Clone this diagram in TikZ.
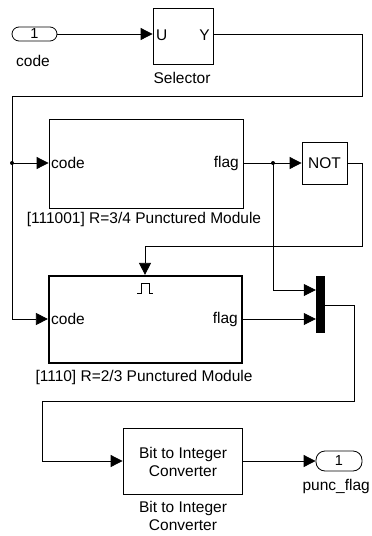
\documentclass[tikz,border=0pt]{standalone}
\usepackage{fontspec}
\setmainfont{Liberation Sans}
\usetikzlibrary{arrows.meta}
\tikzset{
  blk/.style={draw, line width=0.8pt, inner sep=0pt},
  thickblk/.style={draw, line width=2.2pt, inner sep=0pt},
  port/.style={draw, line width=0.8pt, rounded corners=7pt, inner sep=0pt, font=\fontsize{14.5}{16}\selectfont},
  lbl/.style={inner sep=0pt, font=\fontsize{15.5}{18}\selectfont, align=center},
  plbl/.style={inner sep=0pt, font=\fontsize{15.5}{18}\selectfont},
  wire/.style={line width=0.8pt},
  arr/.style={wire, -{Triangle[length=12pt,width=12pt]}},
  dot/.style={circle, fill, inner sep=0pt, minimum size=4pt}
}
\begin{document}
\begin{tikzpicture}[x=1pt,y=-1pt]
\useasboundingbox (0,0) rectangle (372,536);
% blocks
\node[port, minimum width=45pt, minimum height=14pt] (in1) at (34.5,34) {1};
\node[lbl] (incode) at (33,61) {code};
\node[blk, minimum width=60pt, minimum height=56pt] (sel) at (183,36) {};
\node[plbl, anchor=west] (selU) at (156,35) {U};
\node[plbl, anchor=east] (selY) at (210,35) {Y};
\node[lbl] (sellbl) at (182,78) {Selector};

\node[blk, minimum width=194pt, minimum height=89pt] (m1) at (146,163.5) {};
\node[plbl, anchor=west] (m1code) at (51,163) {code};
\node[plbl, anchor=east] (m1flag) at (239,163) {flag};
\node[lbl] (m1lbl) at (144,219) {[111001] R=3/4 Punctured Module};

\node[blk, minimum width=45pt, minimum height=42pt, font=\fontsize{15.5}{18}\selectfont] (not) at (324.5,163) {NOT};

\node[thickblk, minimum width=193pt, minimum height=87pt] (m2) at (145.5,319.5) {};
\node[plbl, anchor=west] (m2code) at (51,319) {code};
\node[plbl, anchor=east] (m2flag) at (238,319) {flag};
\node[lbl] (m2lbl) at (144,377) {[1110] R=2/3 Punctured Module};
\draw[wire] (137,293) -- (141,293) -- (141,283) -- (149,283) -- (149,293) -- (153,293);

\node[fill, minimum width=9pt, minimum height=57pt, inner sep=0pt] (mux) at (320.5,304.5) {};

\node[blk, minimum width=119pt, minimum height=66pt] (b2i) at (182.5,461) {};
\node[lbl] (b2itext) at (183,461.5) {Bit to Integer\\Converter};
\node[lbl] (b2ilbl) at (183,516) {Bit to Integer\\Converter};

\node[port, rounded corners=9pt, minimum width=46pt, minimum height=20pt] (out1) at (339,461) {1};
\node[lbl, anchor=east] (outlbl) at (370,486) {punc\_flag};

% junctions
\coordinate (j0) at (12,163);
\coordinate (j1) at (273,163);
\node[dot] at (j0) {};
\node[dot] at (j1) {};

% wires
\draw[arr] (in1.east) -- (in1.east -| sel.west);
\draw[wire] (sel.east |- in1.east) -- (362,34) -- (362,96) -- (12,96) -- (j0);
\draw[arr] (j0) -- (m1.west |- j0);
\draw[arr] (j0) -- (12,319) -- (m2.west |- 0,319);
\draw[wire] (m1.east |- j1) -- (j1);
\draw[arr] (j1) -- (not.west);
\draw[arr] (j1) -- (273,290) -- (mux.west |- 0,290);
\draw[arr] (not.east) -- (362,163) -- (362,246) -- (145,246) -- (m2.north -| 145,0);
\draw[arr] (m2.east |- 0,319) -- (mux.west |- 0,319);
\draw[arr] (mux.east |- 0,305) -- (354,305) -- (354,401) -- (42,401) -- (42,461) -- (b2i.west);
\draw[arr] (b2i.east) -- (out1.west);
\end{tikzpicture}
\end{document}
